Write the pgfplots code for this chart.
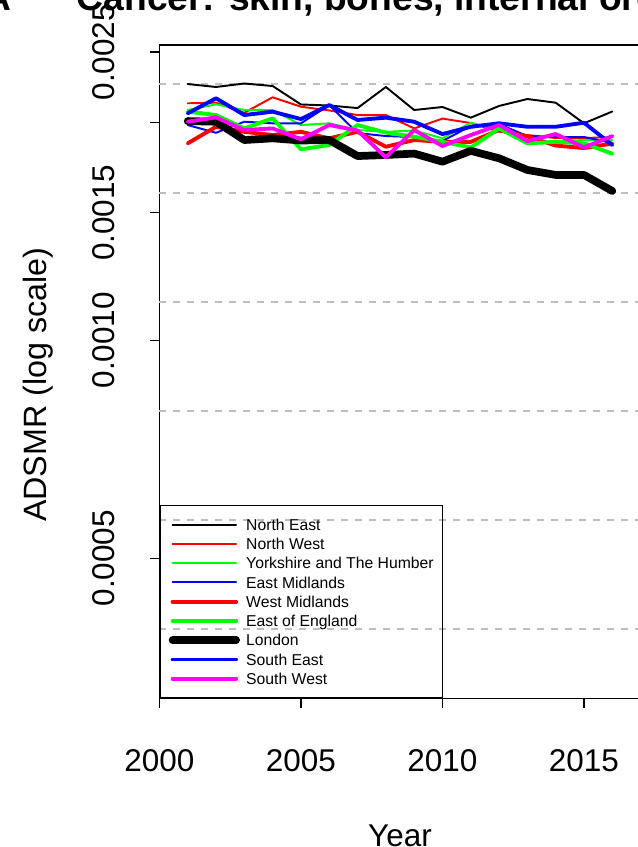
\documentclass[border=0pt]{standalone}
\usepackage{fontspec}
\setmainfont{Liberation Sans}
\usepackage{pgfplots}
\usepackage{pgfplotstable}
\pgfplotsset{compat=1.18}
\definecolor{gridgray}{RGB}{190,190,190}
\definecolor{rred}{RGB}{255,0,0}
\definecolor{rgreen}{RGB}{0,255,0}
\definecolor{rblue}{RGB}{0,0,255}
\definecolor{rmagenta}{RGB}{255,0,255}
\pgfplotstableread{
year NE NW YH EM WM EoE LON SE SW
2001 0.002259 0.002125 0.002080 0.001983 0.001871 0.002069 0.002008 0.002058 0.002004
2002 0.002238 0.002129 0.002118 0.001935 0.001972 0.002047 0.002004 0.002159 0.002032
2003 0.002263 0.002062 0.002080 0.002004 0.001941 0.001962 0.001891 0.002047 0.001952
2004 0.002245 0.002166 0.002080 0.001994 0.001921 0.002026 0.001901 0.002069 0.001962
2005 0.002117 0.002102 0.001983 0.001994 0.001941 0.001836 0.001888 0.002021 0.001895
2006 0.002110 0.002077 0.001994 0.002113 0.001901 0.001861 0.001891 0.002113 0.001983
2007 0.002093 0.002047 0.001952 0.001933 0.001941 0.001983 0.001797 0.002015 0.001949
2008 0.002238 0.002047 0.001941 0.001915 0.001851 0.001936 0.001803 0.002030 0.001789
2009 0.002080 0.001962 0.001949 0.001909 0.001891 0.001911 0.001811 0.002004 0.001952
2010 0.002100 0.002024 0.001901 0.001885 0.001880 0.001880 0.001765 0.001927 0.001855
2011 0.002030 0.001996 0.001998 0.001977 0.001880 0.001847 0.001827 0.001972 0.001921
2012 0.002107 0.001942 0.001952 0.001989 0.001952 0.001962 0.001784 0.001994 0.001983
2013 0.002154 0.001921 0.001879 0.001915 0.001912 0.001871 0.001719 0.001972 0.001885
2014 0.002129 0.001903 0.001885 0.001909 0.001858 0.001880 0.001692 0.001972 0.001927
2015 0.001994 0.001903 0.001891 0.001909 0.001843 0.001871 0.001692 0.001998 0.001847
2016 0.002070 0.001909 0.001891 0.001873 0.001870 0.001810 0.001608 0.001861 0.001915
}\datatable
\begin{document}
\begin{tikzpicture}
\useasboundingbox (0,0) rectangle (478.5pt,-635.25pt);
\clip (0,0) rectangle (478.5pt,-635.25pt);
\begin{axis}[
  at={(119.55pt,-523.725pt)}, anchor=south west,
  scale only axis, width=360.9pt, height=489.975pt,
  ymode=log,
  xmin=2000, xmax=2017,
  ymin=0.0003204, ymax=0.0025573,
  xtick={2000,2005,2010,2015},
  xticklabels={2000,2005,2010,2015},
  ytick={0.0005,0.001,0.0015,0.002,0.0025},
  yticklabels={0.0005,0.0010,0.0015,{},0.0025},
  tick pos=left,
  tick align=outside,
  major tick length=7.1pt,
  tick style={black, line width=1pt},
  axis line style={black, line width=1pt},
  ticklabel style={font=\fontsize{23.6}{28}\selectfont},
  xticklabel style={anchor=base, inner sep=0pt},
  xticklabel shift=47.65pt,
  yticklabel style={rotate=90, anchor=base, inner sep=0pt},
  yticklabel shift=26.35pt,
  extra y ticks={0.0004,0.00056569,0.0008,0.0011314,0.0016,0.0022627},
  extra y tick labels={},
  extra y tick style={grid=major, major tick length=0pt,
     major grid style={gridgray, line width=1.5pt, dash pattern=on 5.25pt off 5.25pt}},
  legend style={at={(0,0)}, anchor=south west, draw=black, line width=1pt, fill=none,
     inner xsep=6.5pt, inner ysep=7pt, row sep=0pt, column sep=4.8pt,
     font=\fontsize{11.8}{14}\selectfont,
     cells={anchor=west},
     nodes={inner sep=0pt, text height=11.445pt, text depth=2.995pt}},
  legend image code/.code={\path (0pt,0pt) -- (47.5pt,0pt);
     \draw[#1] (3.25pt,0pt) -- (47.5pt,0pt);},
  every axis plot/.append style={line cap=round, line join=round},
]
\addplot[black, line width=1.45pt] table[x=year, y=NE] {\datatable};
\addlegendentry{North East}
\addplot[rred, line width=1.45pt] table[x=year, y=NW] {\datatable};
\addlegendentry{North West}
\addplot[rgreen, line width=1.45pt] table[x=year, y=YH] {\datatable};
\addlegendentry{Yorkshire and The Humber}
\addplot[rblue, line width=1.45pt] table[x=year, y=EM] {\datatable};
\addlegendentry{East Midlands}
\addplot[rred, line width=2.9pt] table[x=year, y=WM] {\datatable};
\addlegendentry{West Midlands}
\addplot[rgreen, line width=2.9pt] table[x=year, y=EoE] {\datatable};
\addlegendentry{East of England}
\addplot[black, line width=5.8pt] table[x=year, y=LON] {\datatable};
\addlegendentry{London}
\addplot[rblue, line width=2.9pt] table[x=year, y=SE] {\datatable};
\addlegendentry{South East}
\addplot[rmagenta, line width=2.9pt] table[x=year, y=SW] {\datatable};
\addlegendentry{South West}
\end{axis}
\node[anchor=base, font=\bfseries\fontsize{27.9}{34}\selectfont] at (300pt,-7.9pt) {Cancer: skin, bones, internal organs};
\node[anchor=base east, font=\bfseries\fontsize{27.9}{34}\selectfont, inner sep=0pt] at (9pt,-7.9pt) {A};
\node[anchor=base, font=\fontsize{23.6}{28}\selectfont] at (300pt,-634.5pt) {Year};
\node[anchor=base, rotate=90, font=\fontsize{24.2}{28}\selectfont] at (34.5pt,-288.5pt) {ADSMR (log scale)};
\end{tikzpicture}
\end{document}
